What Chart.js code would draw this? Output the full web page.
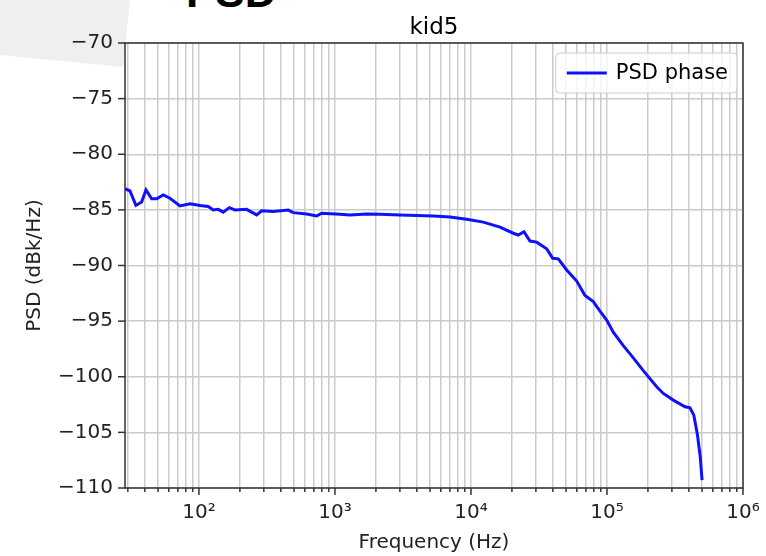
<!DOCTYPE html>
<html><head><meta charset="utf-8">
<script src="https://cdn.jsdelivr.net/npm/chart.js@4/dist/chart.umd.min.js"></script>
<style>
html,body{margin:0;padding:0;background:#fff;overflow:hidden}
#wrap{position:relative;width:766px;height:556px}
#bgshape{position:absolute;left:0;top:0;width:140px;height:70px;background:#efefef;clip-path:polygon(0 0,130px 0,123px 67px,0 55px)}
#heading{position:absolute;left:186px;top:-30px;font:bold 44px "Liberation Sans",Arial,sans-serif;color:#000;line-height:44px}
canvas{position:absolute;left:0;top:0}
</style></head><body>
<div id="wrap"><div id="bgshape"></div><div id="heading">PSD</div><canvas id="c" width="766" height="556"></canvas></div>
<script>
// ---- data ----
const frequencies = [28.6, 31.1, 34.4, 37.9, 40.8, 44.9, 48.9, 54.6, 61.2, 72.5, 85.9, 101.7, 117, 127.4, 138.7, 150.9, 167.1, 184, 224, 265.7, 289, 351.8, 453.6, 493.6, 619.4, 733.5, 798.5, 1088, 1289, 1711, 2142, 3006, 5281, 7008, 9298, 12314, 16340, 20464, 22280, 24530, 27160, 30420, 36030, 39870, 43850, 50540, 59880, 68900, 79310, 88830, 99490, 111200, 131800, 156100, 184900, 231900, 259400, 307200, 374600, 407700, 435000, 462000, 485000, 500000];
const psdPhase = [-83.1, -83.3, -84.6, -84.3, -83.2, -84.0, -84.0, -83.65, -83.95, -84.65, -84.45, -84.6, -84.7, -85.0, -84.95, -85.2, -84.8, -85.0, -84.95, -85.45, -85.08, -85.15, -85.02, -85.25, -85.38, -85.55, -85.3, -85.4, -85.45, -85.37, -85.4, -85.45, -85.55, -85.65, -85.85, -86.1, -86.55, -87.1, -87.26, -86.96, -87.8, -87.9, -88.5, -89.35, -89.4, -90.4, -91.4, -92.7, -93.25, -94.1, -94.9, -96.0, -97.2, -98.3, -99.45, -100.9, -101.5, -102.1, -102.7, -102.8, -103.45, -105.2, -107.2, -109.3];
const xMajorTicks = [100, 1000, 10000, 100000, 1000000];
const xMajorLabels = ['10²', '10³', '10⁴', '10⁵', '10⁶'];
const xMinorMultipliers = [2, 3, 4, 5, 6, 7, 8, 9];
const xMin = 28.6, xMax = 1000000;
const yMin = -110, yMax = -70, yStep = 5;
const seriesLabel = 'PSD phase';
const chartTitle = 'kid5';
const xTitle = 'Frequency (Hz)';
const yTitle = 'PSD (dBk/Hz)';

// tick values: minors in each decade + majors
const xTickValues = [];
[10, 100, 1000, 10000, 100000].forEach(d => {
  xMinorMultipliers.forEach(m => { const v = m * d; if (v > xMin && v < xMax) xTickValues.push(v); });
});
xMajorTicks.forEach(v => xTickValues.push(v));
xTickValues.sort((a, b) => a - b);

const FONT = '"DejaVu Sans", sans-serif';
const AXC = '#333333';

const framePlugin = {
  id: 'frame',
  afterDraw(chart) {
    const {ctx, chartArea: ca, scales} = chart;
    ctx.save();
    // ticks
    ctx.strokeStyle = AXC; ctx.lineWidth = 1.5;
    scales.x.ticks.forEach(t => {
      const px = scales.x.getPixelForValue(t.value);
      const len = xMajorTicks.includes(t.value) ? 7 : 4;
      ctx.beginPath(); ctx.moveTo(px, ca.bottom); ctx.lineTo(px, ca.bottom + len); ctx.stroke();
    });
    scales.y.ticks.forEach(t => {
      const py = scales.y.getPixelForValue(t.value);
      ctx.beginPath(); ctx.moveTo(ca.left, py); ctx.lineTo(ca.left - 7, py); ctx.stroke();
    });
    // frame
    ctx.strokeRect(ca.left, ca.top, ca.right - ca.left, ca.bottom - ca.top);
    // title
    ctx.fillStyle = '#000';
    ctx.font = '23px ' + FONT;
    ctx.textAlign = 'center'; ctx.textBaseline = 'alphabetic';
    ctx.fillText(chartTitle, (ca.left + ca.right) / 2, ca.top - 9);
    // legend
    const ds = chart.data.datasets[0];
    ctx.font = '21px ' + FONT;
    const tw = ctx.measureText(ds.label).width;
    const right = ca.right - 6, top = ca.top + 10, h = 40;
    const w = 11 + 40 + 9 + tw + 9;
    const left = right - w;
    ctx.beginPath();
    ctx.roundRect(left, top, w, h, 4);
    ctx.fillStyle = 'rgba(255,255,255,0.8)'; ctx.fill();
    ctx.strokeStyle = '#cccccc'; ctx.lineWidth = 1; ctx.stroke();
    ctx.strokeStyle = ds.borderColor; ctx.lineWidth = ds.borderWidth;
    ctx.beginPath(); ctx.moveTo(left + 11, top + h / 2); ctx.lineTo(left + 51, top + h / 2); ctx.stroke();
    ctx.fillStyle = '#000'; ctx.textAlign = 'left'; ctx.textBaseline = 'middle';
    ctx.fillText(ds.label, left + 60, top + h / 2 + 1);
    ctx.restore();
  }
};

new Chart(document.getElementById('c'), {
  type: 'line',
  data: {
    datasets: [{
      label: seriesLabel,
      data: frequencies.map((f, i) => ({x: f, y: psdPhase[i]})),
      borderColor: '#1010ff',
      borderWidth: 3,
      pointRadius: 0,
      tension: 0,
      fill: false
    }]
  },
  options: {
    responsive: false,
    animation: false,
    layout: {padding: {top: 43, right: 23, left: 0, bottom: 0}},
    plugins: {legend: {display: false}, title: {display: false}, tooltip: {enabled: false}},
    scales: {
      x: {
        type: 'logarithmic', min: xMin, max: xMax,
        afterBuildTicks: s => { s.ticks = xTickValues.map(v => ({value: v, major: false})); },
        afterFit: s => { s.height = 68; s.paddingLeft = 0; s.paddingRight = 0; },
        grid: {color: '#cbcbcb', lineWidth: 1.5, drawTicks: false},
        border: {display: false},
        ticks: {
          autoSkip: false, maxRotation: 0, padding: 13,
          font: {family: FONT, size: 20}, color: '#222',
          callback: v => { const i = xMajorTicks.indexOf(v); return i >= 0 ? xMajorLabels[i] : ''; }
        },
        title: {display: true, text: xTitle, font: {family: FONT, size: 20}, color: '#222', padding: {top: 0, bottom: 1}}
      },
      y: {
        type: 'linear', min: yMin, max: yMax,
        afterFit: s => { s.width = 125; s.paddingTop = 0; s.paddingBottom = 0; },
        grid: {color: '#cbcbcb', lineWidth: 1.5, drawTicks: false},
        border: {display: false},
        ticks: {
          stepSize: yStep, padding: 12,
          font: {family: FONT, size: 20}, color: '#222',
          callback: v => (v < 0 ? '\u2212' : '') + Math.abs(v)
        },
        title: {display: true, text: yTitle, font: {family: FONT, size: 20}, color: '#222', padding: {top: 23, bottom: 0}}
      }
    }
  },
  plugins: [framePlugin]
});
</script>
</body></html>
